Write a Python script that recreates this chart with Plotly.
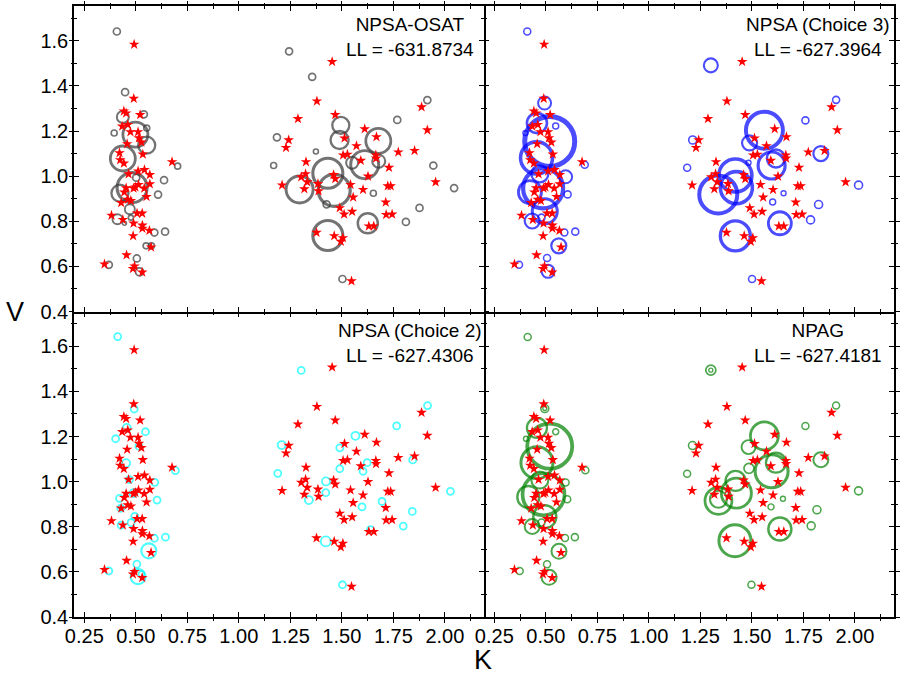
import plotly.graph_objects as go
from plotly.subplots import make_subplots

# ---------------- data ----------------
# observed (true) individual parameters, red stars (same in every panel)
star_k = [0.492, 0.490, 0.442, 0.453, 0.521, 0.434, 0.461, 0.511, 0.474, 0.515, 0.527, 0.458,
          0.421, 0.534, 0.424, 0.442, 0.465, 0.511, 0.542, 0.568, 0.513, 0.568, 0.498, 0.489,
          0.541, 0.453, 0.444, 0.552, 0.461, 0.476, 0.429, 0.382, 0.506, 0.531, 0.437, 0.489,
          0.532, 0.532, 0.566, 0.487, 0.574, 0.455, 0.348, 0.494, 0.486, 0.531, 0.676,
          1.453, 1.379, 1.468, 1.287, 1.242, 1.229, 1.513, 1.611, 1.668, 1.571, 1.774, 1.853,
          1.887, 1.915, 1.506, 1.527, 1.592, 1.665, 1.666, 1.729, 1.326, 1.324, 1.303, 1.332,
          1.460, 1.468, 1.627, 1.210, 1.318, 1.384, 1.387, 1.542, 1.603, 1.723, 1.737, 1.955,
          1.555, 1.713, 1.490, 1.511, 1.550, 1.715, 1.744, 1.631, 1.655, 1.377, 1.463, 1.505,
          1.495, 1.547]
star_v = [1.584, 1.344, 1.288, 1.279, 1.272, 1.221, 1.228, 1.196, 1.196, 1.169, 1.150, 1.143,
          1.103, 1.097, 1.072, 1.057, 1.009, 1.022, 1.028, 1.006, 0.962, 0.965, 0.951, 0.946,
          0.946, 0.947, 0.929, 0.909, 0.896, 0.891, 0.882, 0.826, 0.835, 0.835, 0.807, 0.791,
          0.782, 0.768, 0.759, 0.735, 0.685, 0.650, 0.610, 0.601, 0.590, 0.574, 1.063,
          1.507, 1.332, 1.272, 1.254, 1.160, 1.126, 1.168, 1.209, 1.174, 1.134, 1.106, 1.113,
          1.306, 1.204, 1.093, 1.096, 1.069, 1.093, 1.079, 1.038, 1.063, 1.010, 0.996, 0.974,
          1.006, 0.988, 0.999, 0.960, 0.943, 0.966, 0.934, 0.962, 0.940, 0.956, 0.956, 0.974,
          0.906, 0.884, 0.859, 0.831, 0.843, 0.829, 0.831, 0.778, 0.778, 0.750, 0.735, 0.726,
          0.710, 0.535]

# NPSA-OSAT support points and weights
osat_k = [0.408, 0.448, 0.437, 0.539, 0.395, 0.553, 0.498, 0.553, 0.437, 0.502, 0.423, 0.482,
          0.471, 0.411, 0.637, 0.608, 0.590, 0.642, 0.550, 0.576, 0.505, 0.518, 0.369, 0.703,
          0.476, 0.445,
          1.244, 1.356, 1.185, 1.169, 1.374, 1.495, 1.489, 1.677, 1.611, 1.550, 1.679, 1.769,
          1.915, 1.944, 2.045, 1.877, 1.811, 1.432, 1.463, 1.295, 1.426, 1.653, 1.626, 1.432,
          1.503]
osat_v = [1.641, 1.372, 1.262, 1.274, 1.191, 1.213, 1.184, 1.137, 1.078, 0.993, 0.924, 0.949,
          0.853, 0.809, 0.982, 0.918, 0.750, 0.754, 0.691, 0.691, 0.635, 0.576, 0.607, 1.044,
          0.816, 0.791,
          1.553, 1.440, 1.172, 1.047, 1.109, 1.225, 1.160, 1.156, 1.051, 1.059, 1.066, 1.249,
          1.337, 1.047, 0.947, 0.859, 0.797, 1.013, 0.937, 0.941, 0.875, 0.924, 0.791, 0.737,
          0.544]
osat_w = [7, 7, 12, 7, 6, 6, 25, 17, 25, 7, 17, 30, 10, 10, 7, 7, 7, 7, 6, 6, 7, 8, 7, 6, 5, 4,
          7, 7, 7, 6, 5, 17, 18, 25, 28, 12, 13, 7, 7, 7, 7, 7, 7, 30, 32, 27, 7, 6, 20, 30, 7]

# NPSA (Choice 3)
c3_k = [0.410, 0.494, 0.457, 0.548, 0.401, 0.519, 0.455, 0.471, 0.596, 0.423, 0.487, 0.495,
        0.434, 0.479, 0.606, 0.590, 0.643, 0.563, 0.506, 0.511, 0.370, 0.689,
        1.301, 1.213, 1.186, 1.909, 1.760, 1.561, 1.489, 1.484, 1.617, 1.596, 1.835, 1.420,
        1.425, 1.337, 1.601, 1.654, 2.018, 1.824, 1.785, 1.636, 1.420, 1.501]
c3_v = [1.641, 1.324, 1.235, 1.222, 1.191, 1.154, 1.081, 1.010, 0.997, 0.929, 0.946, 0.844,
        0.801, 0.816, 0.919, 0.750, 0.754, 0.691, 0.637, 0.578, 0.607, 1.050,
        1.491, 1.160, 1.037, 1.338, 1.247, 1.203, 1.147, 1.059, 1.078, 1.047, 1.100, 1.003,
        0.949, 0.919, 0.885, 0.924, 0.960, 0.874, 0.806, 0.791, 0.735, 0.544]
c3_w = [7, 13, 20, 6, 5, 50, 32, 17, 13, 23, 40, 25, 15, 7, 7, 7, 7, 15, 7, 13, 7, 7,
        14, 8, 7, 7, 7, 37, 15, 5, 18, 27, 15, 33, 32, 38, 6, 5, 8, 8, 8, 23, 30, 7]

# NPSA (Choice 2)
c2_k = [0.412, 0.492, 0.402, 0.456, 0.547, 0.515, 0.453, 0.469, 0.592, 0.421, 0.489, 0.603,
        0.427, 0.495, 0.477, 0.429, 0.590, 0.644, 0.563, 0.505, 0.511, 0.527, 0.369, 0.692,
        1.303, 1.208, 1.189, 1.916, 1.766, 1.566, 1.490, 1.490, 1.603, 1.623, 1.844, 1.423,
        1.422, 1.340, 1.598, 1.695, 2.027, 1.842, 1.798, 1.639, 1.422, 1.503]
c2_v = [1.643, 1.322, 1.190, 1.238, 1.221, 1.157, 1.082, 1.009, 0.997, 0.926, 0.949, 0.918,
        0.882, 0.846, 0.818, 0.807, 0.749, 0.754, 0.693, 0.634, 0.579, 0.590, 0.604, 1.049,
        1.493, 1.162, 1.037, 1.337, 1.247, 1.203, 1.150, 1.057, 1.046, 1.084, 1.096, 1.001,
        0.951, 0.918, 0.888, 0.912, 0.957, 0.868, 0.803, 0.787, 0.735, 0.543]
c2_w = [7, 7, 7, 8, 7, 7, 8, 7, 7, 7, 8, 7, 7, 7, 7, 7, 7, 7, 15, 7, 15, 6, 7, 7,
        7, 8, 7, 7, 7, 8, 7, 7, 7, 7, 7, 8, 7, 8, 7, 7, 7, 7, 7, 7, 10, 7]

# NPAG
npag_k = [0.412, 0.495, 0.495, 0.457, 0.548, 0.404, 0.519, 0.457, 0.471, 0.596, 0.415, 0.489,
          0.495, 0.434, 0.479, 0.604, 0.593, 0.641, 0.564, 0.506, 0.516, 0.373, 0.692,
          1.301, 1.301, 1.212, 1.186, 1.909, 1.760, 1.561, 1.484, 1.486, 1.617, 1.596, 1.835,
          1.421, 1.425, 1.338, 1.338, 1.593, 1.651, 2.018, 1.816, 1.788, 1.636, 1.418, 1.498]
npag_v = [1.641, 1.324, 1.324, 1.238, 1.221, 1.190, 1.157, 1.084, 1.007, 0.996, 0.932, 0.944,
          0.844, 0.801, 0.819, 0.922, 0.750, 0.754, 0.691, 0.634, 0.576, 0.604, 1.050,
          1.494, 1.494, 1.160, 1.035, 1.337, 1.247, 1.203, 1.153, 1.059, 1.084, 1.046, 1.097,
          1.003, 0.949, 0.915, 0.922, 0.888, 0.924, 0.959, 0.875, 0.804, 0.790, 0.738, 0.543]
npag_w = [7, 8, 4, 20, 6, 5, 45, 32, 17, 7, 22, 42, 23, 15, 7, 7, 7, 7, 15, 7, 15, 7, 7,
          10, 4, 8, 7, 7, 7, 28, 14, 10, 20, 33, 15, 20, 30, 27, 17, 6, 5, 8, 8, 8, 23, 32, 7]

panel_titles = ["NPSA-OSAT", "NPSA (Choice 3)", "NPSA (Choice 2)", "NPAG"]
panel_ll = ["-631.8734", "-627.3964", "-627.4306", "-627.4181"]

x_ticks = [0.25, 0.50, 0.75, 1.00, 1.25, 1.50, 1.75, 2.00]
y_ticks = [0.4, 0.6, 0.8, 1.0, 1.2, 1.4, 1.6]

# ---------------- figure ----------------
FONT = "Arial, Liberation Sans, sans-serif"
LW = 1.5
CLEAR = "rgba(0,0,0,0)"
fig = make_subplots(rows=2, cols=2, horizontal_spacing=0, vertical_spacing=0)

panels = [
    (osat_k, osat_v, osat_w, "#383838", 1.3, 0.06, 1, 1),
    (c3_k, c3_v, c3_w, "#0000ff", 1.0, 0.08, 1, 2),
    (c2_k, c2_v, c2_w, "#00ffff", 1.6, 0.03, 2, 1),
    (npag_k, npag_v, npag_w, "#008000", 1.1, 0.06, 2, 2),
]

for k, v, w, col, lw0, lwk, r, c in panels:
    fig.add_trace(go.Scatter(
        x=k, y=v, mode="markers", showlegend=False, hoverinfo="skip",
        marker=dict(symbol="circle-open", size=w, color=col,
                    line=dict(color=col, width=[lw0 + lwk * s for s in w])),
    ), row=r, col=c)
    fig.add_trace(go.Scatter(
        x=star_k, y=star_v, mode="markers", showlegend=False, hoverinfo="skip",
        marker=dict(symbol="star", size=8, color="#ff0000", line=dict(width=0)),
    ), row=r, col=c)

xr = [0.2, 2.19]
yr = [0.4, 1.754]
x_minor = [t + 0.125 for t in x_ticks]
y_minor = [t + 0.1 for t in y_ticks]

xdom = {1: [0.0, 0.5], 2: [0.5, 1.0]}
ydom = {1: [0.5, 1.0], 2: [0.0, 0.5]}

for r, c in [(1, 1), (1, 2), (2, 1), (2, 2)]:
    # inner shared borders drawn once: left column / top row own them
    fig.update_xaxes(
        row=r, col=c, domain=xdom[c], range=xr, tickmode="array", tickvals=x_ticks,
        ticktext=[f"{t:.2f}" for t in x_ticks],
        showticklabels=(r == 2), ticks="inside", ticklen=5, tickwidth=1.3,
        tickcolor="black", mirror="ticks", showline=True,
        linecolor=("black" if r == 1 else CLEAR),
        linewidth=LW, showgrid=False, zeroline=False,
        tickfont=dict(family=FONT, size=20, color="black"),
        minor=dict(tickvals=x_minor, ticks="inside", ticklen=3, tickwidth=1.1,
                   tickcolor="black"),
    )
    fig.update_yaxes(
        row=r, col=c, domain=ydom[r], range=yr, tickmode="array", tickvals=y_ticks,
        ticktext=[f"{t:.1f}" for t in y_ticks],
        showticklabels=(c == 1), ticks="inside", ticklen=5, tickwidth=1.3,
        tickcolor="black", mirror="ticks", showline=True,
        linecolor=("black" if c == 1 else CLEAR),
        linewidth=LW, showgrid=False, zeroline=False,
        tickfont=dict(family=FONT, size=20, color="black"),
        minor=dict(tickvals=y_minor, ticks="inside", ticklen=3,
                   tickwidth=1.1, tickcolor="black"),
    )

# overlay axes: outer half of the crossing ticks, plus outer borders
base = [("", 1, 1), ("2", 1, 2), ("3", 2, 1), ("4", 2, 2)]
for i, (b, r, c) in enumerate(base):
    n = i + 5
    fig.add_trace(go.Scatter(x=[None], y=[None], xaxis=f"x{n}", yaxis=f"y{n}",
                             showlegend=False, hoverinfo="skip"))
    xo = dict(overlaying=f"x{b}", anchor=f"y{n}", domain=xdom[c], range=xr,
              tickmode="array", tickvals=x_ticks, showticklabels=False,
              ticks="outside", ticklen=4, tickwidth=1.3, tickcolor="black",
              showgrid=False, zeroline=False,
              minor=dict(tickvals=x_minor, ticks="outside", ticklen=2,
                         tickwidth=1.1, tickcolor="black"))
    if r == 2:
        xo.update(side="bottom", showline=True, linecolor="black", linewidth=LW, mirror=False)
    else:
        xo.update(showline=False, mirror="ticks")
    yo = dict(overlaying=f"y{b}", anchor=f"x{n}", domain=ydom[r], range=yr,
              tickmode="array", tickvals=y_ticks, showticklabels=False,
              ticks="outside", ticklen=4, tickwidth=1.3, tickcolor="black",
              showgrid=False, zeroline=False,
              minor=dict(tickvals=y_minor, ticks="outside", ticklen=2,
                         tickwidth=1.1, tickcolor="black"))
    if c == 2:
        yo.update(side="right", showline=True, linecolor="black", linewidth=LW, mirror=False)
    else:
        yo.update(showline=False, mirror="ticks")
    fig.layout[f"xaxis{n}"] = xo
    fig.layout[f"yaxis{n}"] = yo

# panel labels
pos = [(0.410, 0.949), (0.907, 0.949), (0.410, 0.4484), (0.907, 0.4484)]
for (px, py), t, ll in zip(pos, panel_titles, panel_ll):
    fig.add_annotation(x=px, y=py, xref="paper", yref="paper", showarrow=False,
                       text=f"{t}<br>LL = {ll}", align="center",
                       xanchor="center", yanchor="middle",
                       font=dict(family=FONT, size=19, color="black"))

fig.add_annotation(x=-0.0716, y=0.5, xref="paper", yref="paper", showarrow=False,
                   text="V", xanchor="center", yanchor="middle",
                   font=dict(family=FONT, size=27, color="black"))
fig.add_annotation(x=0.4988, y=-0.0704, xref="paper", yref="paper", showarrow=False,
                   text="K", xanchor="center", yanchor="middle",
                   font=dict(family=FONT, size=27, color="black"))

fig.update_layout(
    width=900, height=676,
    margin=dict(l=74, r=2, t=6, b=59),
    paper_bgcolor="white", plot_bgcolor="white",
    showlegend=False,
)

fig.write_html("out.html")
